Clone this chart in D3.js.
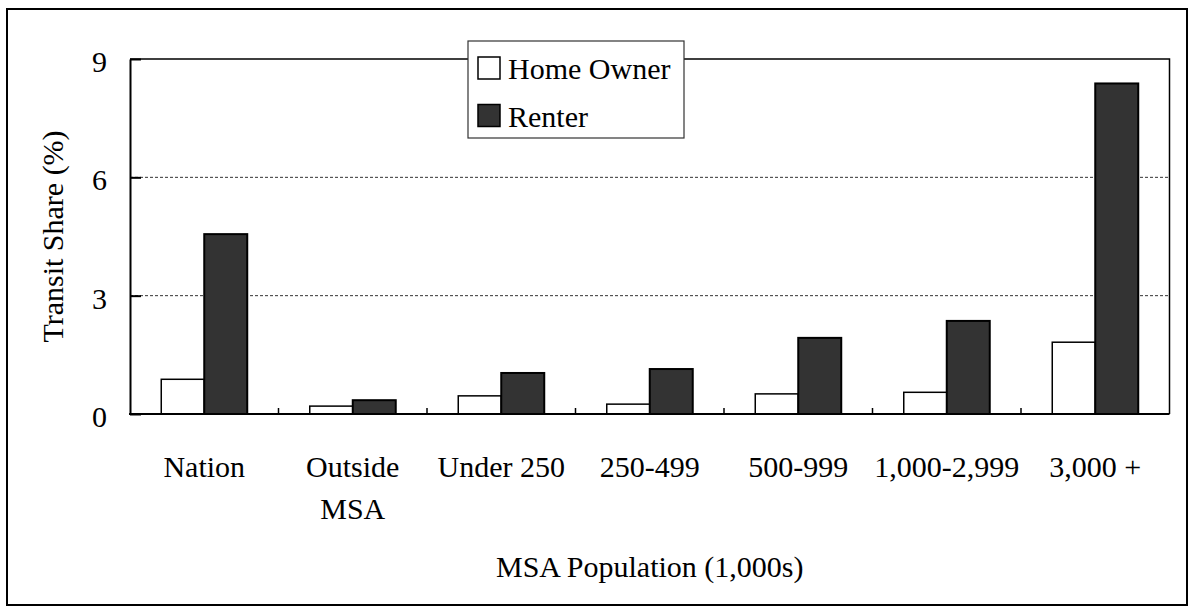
<!DOCTYPE html>
<html lang="en">
    <head>
        <meta charset="utf-8">
        <title>Transit Share by MSA Population</title>
        <script type="text/javascript" src="https://cdn.jsdelivr.net/npm/d3@7/dist/d3.min.js"></script>
        <style>
            body { margin: 0; background: #fff; }
        </style>
    </head>

    <body>
        <script type="text/javascript">

            // chart data
            var categories = ["Nation", "Outside MSA", "Under 250", "250-499", "500-999", "1,000-2,999", "3,000 +"];
            var series_names = ["Home Owner", "Renter"];
            var home_owner = [0.88, 0.20, 0.46, 0.25, 0.51, 0.55, 1.82];
            var renter = [4.56, 0.35, 1.04, 1.14, 1.93, 2.36, 8.38];
            var y_ticks = [0, 3, 6, 9];
            var series_colors = ["#ffffff", "#333333"];

            var width = 1193;
            var height = 612;
            var plot_left = 130, plot_right = 1169.5, plot_top = 59, plot_bottom = 414;
            var font_size = 30;

            // pick the first serif font that is really installed
            function pick_font(list) {
                var ctx = document.createElement("canvas").getContext("2d");
                var sample = "Home Owner 1,000-2,999 MSA";
                ctx.font = "30px monospace";
                var base_mono = ctx.measureText(sample).width;
                ctx.font = "30px sans-serif";
                var base_sans = ctx.measureText(sample).width;
                for (var i = 0; i < list.length; i++) {
                    ctx.font = "30px '" + list[i] + "', monospace";
                    var w1 = ctx.measureText(sample).width;
                    ctx.font = "30px '" + list[i] + "', sans-serif";
                    var w2 = ctx.measureText(sample).width;
                    if (w1 != base_mono || w2 != base_sans) return "'" + list[i] + "', serif";
                }
                return "serif";
            }
            var font_family = pick_font(["Liberation Serif", "Times New Roman", "Tinos", "Nimbus Roman", "Nimbus Roman No9 L", "DejaVu Serif", "Noto Serif"]);

            var svg = d3.select("body")
                .append("svg")
                .attr("width", width)
                .attr("height", height)
                .style("font-family", font_family);

            // outer frame
            svg.append("rect")
                .attr("x", 7)
                .attr("y", 9)
                .attr("width", 1180)
                .attr("height", 596)
                .attr("fill", "#fff")
                .attr("stroke", "#000")
                .attr("stroke-width", 2);

            var y = d3.scaleLinear()
                .domain([0, 9])
                .range([plot_bottom, plot_top]);

            var x0 = d3.scaleBand()
                .domain(categories)
                .range([plot_left, plot_right])
                .padding(0);

            var x1 = d3.scaleBand()
                .domain(series_names)
                .range([0, x0.bandwidth()])
                .paddingInner(0)
                .paddingOuter(0.727);

            // dashed gridlines
            svg.append("g")
                .selectAll("line")
                .data(y_ticks.filter(function(d) { return d > 0 && d < 9; }))
                .enter()
                .append("line")
                .attr("x1", plot_left)
                .attr("x2", plot_right)
                .attr("y1", function(d) { return y(d); })
                .attr("y2", function(d) { return y(d); })
                .attr("stroke", "#333")
                .attr("stroke-width", 1)
                .attr("stroke-dasharray", "3,2");

            // top and right border of the plot area
            svg.append("path")
                .attr("d", "M" + plot_left + "," + plot_top + "H" + plot_right + "V" + plot_bottom)
                .attr("fill", "none")
                .attr("stroke", "#000")
                .attr("stroke-width", 1.5);

            // bars
            var table = categories.map(function(c, i) {
                return { category: c, values: [home_owner[i], renter[i]] };
            });

            svg.append("g")
                .selectAll("g")
                .data(table)
                .enter()
                .append("g")
                .attr("transform", function(d) { return "translate(" + x0(d.category) + ",0)"; })
                .selectAll("rect")
                .data(function(d) {
                    return d.values.map(function(v, j) { return { key: series_names[j], value: v, idx: j }; });
                })
                .enter()
                .append("rect")
                .attr("x", function(d) { return x1(d.key); })
                .attr("width", x1.bandwidth())
                .attr("y", function(d) { return y(d.value); })
                .attr("height", function(d) { return y(0) - y(d.value); })
                .attr("fill", function(d) { return series_colors[d.idx]; })
                .attr("stroke", "#000")
                .attr("stroke-width", function(d) { return d.idx == 0 ? 1.5 : 2; });

            // y axis
            var y_axis = svg.append("g")
                .attr("transform", "translate(" + plot_left + ",0)")
                .call(d3.axisLeft(y).tickValues(y_ticks).tickSizeInner(-11).tickSizeOuter(0).tickPadding(23));
            y_axis.attr("font-family", null).attr("font-size", null);
            y_axis.select(".domain").attr("stroke-width", 2);
            y_axis.selectAll(".tick line").attr("stroke-width", 2);
            y_axis.selectAll(".tick text")
                .attr("font-size", font_size)
                .attr("dy", "0.42em");

            // x axis line and small inner ticks between categories
            svg.append("line")
                .attr("x1", plot_left - 1)
                .attr("x2", plot_right)
                .attr("y1", plot_bottom)
                .attr("y2", plot_bottom)
                .attr("stroke", "#000")
                .attr("stroke-width", 2);

            svg.append("g")
                .selectAll("line")
                .data(categories.slice(1))
                .enter()
                .append("line")
                .attr("x1", function(d) { return x0(d); })
                .attr("x2", function(d) { return x0(d); })
                .attr("y1", plot_bottom)
                .attr("y2", plot_bottom - 6)
                .attr("stroke", "#000")
                .attr("stroke-width", 1.5);

            // category labels, wrapped when wider than the band
            var cat_labels = svg.append("g")
                .selectAll("text")
                .data(categories)
                .enter()
                .append("text")
                .attr("x", function(d) { return x0(d) + x0.bandwidth() / 2; })
                .attr("y", 477)
                .attr("text-anchor", "middle")
                .attr("font-size", font_size)
                .text(function(d) { return d; });

            cat_labels.each(function(d) {
                var t = d3.select(this);
                if (d.indexOf(" ") < 0 || this.getComputedTextLength() <= x0.bandwidth()) return;
                var words = d.split(" ");
                var cx = t.attr("x");
                t.text(null);
                words.forEach(function(w, k) {
                    t.append("tspan")
                        .attr("x", cx)
                        .attr("dy", k == 0 ? 0 : 42)
                        .text(w);
                });
            });

            // axis titles
            svg.append("text")
                .attr("transform", "translate(63," + (plot_top + plot_bottom) / 2 + ") rotate(-90)")
                .attr("text-anchor", "middle")
                .attr("font-size", font_size)
                .text("Transit Share (%)");

            svg.append("text")
                .attr("x", (plot_left + plot_right) / 2)
                .attr("y", 577)
                .attr("text-anchor", "middle")
                .attr("font-size", font_size)
                .text("MSA Population (1,000s)");

            // legend
            var legend = svg.append("g").attr("transform", "translate(468,41)");
            legend.append("rect")
                .attr("width", 216)
                .attr("height", 97)
                .attr("fill", "#fff")
                .attr("stroke", "#333")
                .attr("stroke-width", 1.2);

            var legend_rows = legend.selectAll("g")
                .data(series_names)
                .enter()
                .append("g")
                .attr("transform", function(d, i) { return "translate(10," + (16 + i * 47.5) + ")"; });

            legend_rows.append("rect")
                .attr("width", 22)
                .attr("height", 22)
                .attr("fill", function(d, i) { return series_colors[i]; })
                .attr("stroke", "#000")
                .attr("stroke-width", 1.5);

            legend_rows.append("text")
                .attr("x", 30)
                .attr("y", 22)
                .attr("font-size", font_size)
                .text(function(d) { return d; });

        </script>
    </body>
</html>
